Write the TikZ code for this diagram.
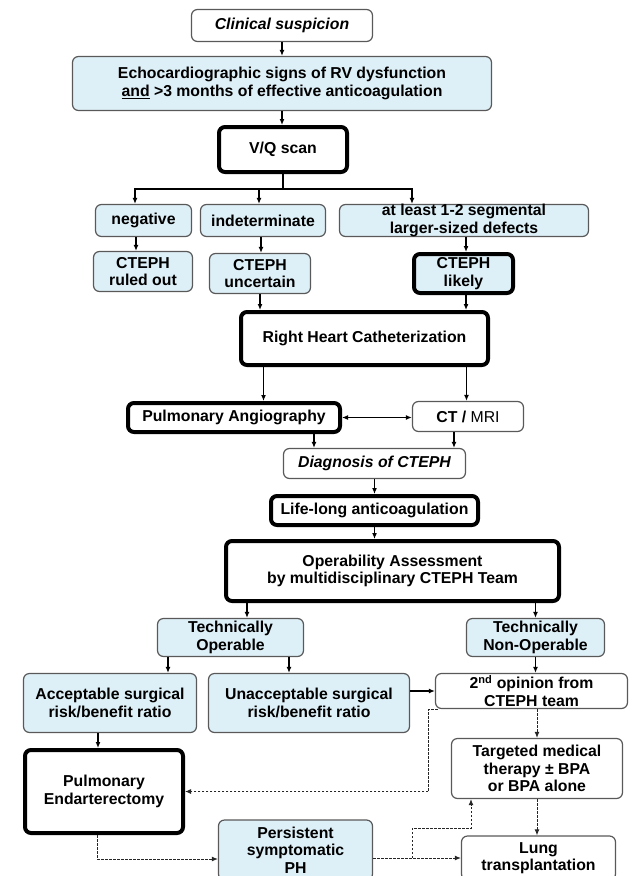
\documentclass[tikz,border=0pt]{standalone}
\usepackage{fontspec}
\setmainfont{Liberation Sans}
\usetikzlibrary{arrows.meta, positioning}
\definecolor{paleblue}{RGB}{222,240,247}

\begin{document}
\begin{tikzpicture}[x=1pt, y=-1pt, ->, >={Latex[length=6pt, width=5pt]}, line width=1.3pt,
    every node/.style={rectangle, draw=black!65, line width=1.2pt, rounded corners=6pt, fill=paleblue, align=center, inner sep=0pt, font=\fontsize{15.8}{17.3}\selectfont\bfseries},
    whitebox/.style={fill=white},
    heavybox/.style={fill=white, draw=black, line width=4pt},
    dashline/.style={dash pattern=on 2.5pt off 1.5pt, line width=1pt, draw=black!85}]
    \useasboundingbox (0,0) rectangle (633,876);
    \clip (0,0) rectangle (633,876);
    \node (clinical) [whitebox, minimum width=181pt, minimum height=32pt] at (282,25.5) {\itshape Clinical suspicion};
    \node (echo) [minimum width=419pt, minimum height=54pt] at (282,83.5) {Echocardiographic signs of RV dysfunction \\ \underline{and} >3 months of effective anticoagulation};
    \node (vq) [heavybox, minimum width=128pt, minimum height=45pt] at (283,149.5) {V/Q scan};
    \node (negative) [minimum width=96pt, minimum height=32pt] at (143.5,220.5) {negative};
    \node (indeterminate) [minimum width=125pt, minimum height=32pt] at (263,220.5) {indeterminate};
    \node (defects) [minimum width=249pt, minimum height=32pt, inner ysep=-2pt] at (464,220.5) {at least 1-2 segmental \\ larger-sized defects};
    \node (ruled) [minimum width=99pt, minimum height=40pt] at (143,271.5) {CTEPH \\ ruled out};
    \node (uncertain) [minimum width=101pt, minimum height=40pt] at (260,273.5) {CTEPH \\ uncertain};
    \node (likely) [heavybox, fill=paleblue, minimum width=99pt, minimum height=39pt] at (463.5,273.5) {CTEPH \\ likely};
    \node (rhc) [heavybox, minimum width=247pt, minimum height=53pt] at (364.5,338.5) {Right Heart Catheterization};
    \node (angio) [heavybox, minimum width=212pt, minimum height=29pt] at (234,417.5) {Pulmonary Angiography};
    \node (ctmri) [whitebox, minimum width=111pt, minimum height=30pt] at (468,416.5) {CT / {\mdseries MRI}};
    \node (diagnosis) [whitebox, minimum width=182pt, minimum height=30pt] at (374.5,463.5) {\itshape Diagnosis of CTEPH};
    \node (lifelong) [heavybox, minimum width=207pt, minimum height=29pt] at (374.5,510.5) {Life-long anticoagulation};
    \node (operab) [heavybox, minimum width=333pt, minimum height=60pt] at (392.5,571) {Operability Assessment \\ by multidisciplinary CTEPH Team};
    \node (techop) [minimum width=146pt, minimum height=38pt] at (230.5,637.5) {Technically \\ Operable};
    \node (technon) [minimum width=138pt, minimum height=38pt] at (535.5,637.5) {Technically \\ Non-Operable};
    \node (accept) [minimum width=173pt, minimum height=59pt] at (110,703) {Acceptable surgical \\ risk/benefit ratio};
    \node (unaccept) [minimum width=201pt, minimum height=59pt] at (309,703) {Unacceptable surgical \\ risk/benefit ratio};
    \node (second) [whitebox, minimum width=192pt, minimum height=35pt, inner ysep=-1pt] at (531.5,691) {2\textsuperscript{nd} opinion from \\ CTEPH team};
    \node (endart) [heavybox, minimum width=158pt, minimum height=83pt] at (104,791.5) {Pulmonary \\ Endarterectomy};
    \node (targeted) [whitebox, minimum width=171pt, minimum height=60pt] at (537,768.5) {Targeted medical \\ therapy ± BPA \\ or BPA alone};
    \node (persist) [minimum width=154pt, minimum height=60pt] at (295.5,850) {Persistent \\ symptomatic \\ PH};
    \node (lung) [whitebox, minimum width=154pt, minimum height=44pt] at (538.5,858) {Lung \\ transplantation};
    \coordinate (fork) at (283,189);
    \coordinate (phsplit) at (412,858);
    \coordinate (phturn) at (412,828);
    \draw (clinical) -- (echo);
    \draw (echo.south) -- (echo.south |- vq.north);
    \draw[-] (vq) -- (fork);
    \draw (fork) -| ([xshift=-8.5pt]negative.north);
    \draw (fork) -| ([xshift=-4pt]indeterminate.north);
    \draw (fork) -| ([xshift=-52pt]defects.north);
    \draw ([xshift=-7.5pt]negative.south) -- ([xshift=-7pt]ruled.north);
    \draw ([xshift=-2pt]indeterminate.south) -- ([xshift=1pt]uncertain.north);
    \draw ([xshift=2pt]defects.south) -- ([xshift=2.5pt]likely.north);
    \draw (uncertain.south) -- (uncertain.south |- rhc.north);
    \draw ([xshift=2.5pt]likely.south) -- ([xshift=2.5pt]likely.south |- rhc.north);
    \draw ([xshift=-101pt]rhc.south) -- ([xshift=-101pt]rhc.south |- angio.north);
    \draw ([xshift=102pt]rhc.south) -- ([xshift=102pt]rhc.south |- ctmri.north);
    \draw[<->] (angio.east) -- (angio.east -| ctmri.west);
    \draw ([xshift=80pt]angio.south) -- ([xshift=80pt]angio.south |- diagnosis.north);
    \draw ([xshift=-14pt]ctmri.south) -- ([xshift=-14pt]ctmri.south |- diagnosis.north);
    \draw (diagnosis) -- (lifelong);
    \draw (lifelong.south) -- (lifelong.south |- operab.north);
    \draw ([xshift=16.5pt]techop.north |- operab.south) -- ([xshift=16.5pt]techop.north);
    \draw (technon.north |- operab.south) -- (technon.north);
    \draw ([xshift=-62.5pt]techop.south) -- ([xshift=-62.5pt]techop.south |- accept.north);
    \draw ([xshift=-20pt]unaccept.north |- techop.south) -- ([xshift=-20pt]unaccept.north);
    \draw (technon.south) -- (technon.south |- second.north);
    \draw (unaccept.east |- second.west) -- (second.west);
    \draw ([xshift=-6pt]endart.north |- accept.south) -- ([xshift=-6pt]endart.north);
    \draw[dashline] ([xshift=3pt]second.south west) -- ++(-9pt,0pt) |- (endart.east);
    \draw[dashline] (targeted.north |- second.south) -- (targeted.north);
    \draw[dashline] (targeted.south) -- (targeted.south |- lung.north);
    \draw[dashline] ([xshift=-7pt]endart.south) |- ([yshift=-9pt]persist.west);
    \draw[dashline] (persist.east |- lung.west) -- (lung.west);
    \draw[dashline] (phsplit) -- (phturn) -| ([xshift=-66pt]targeted.south);
\end{tikzpicture}
\end{document}
